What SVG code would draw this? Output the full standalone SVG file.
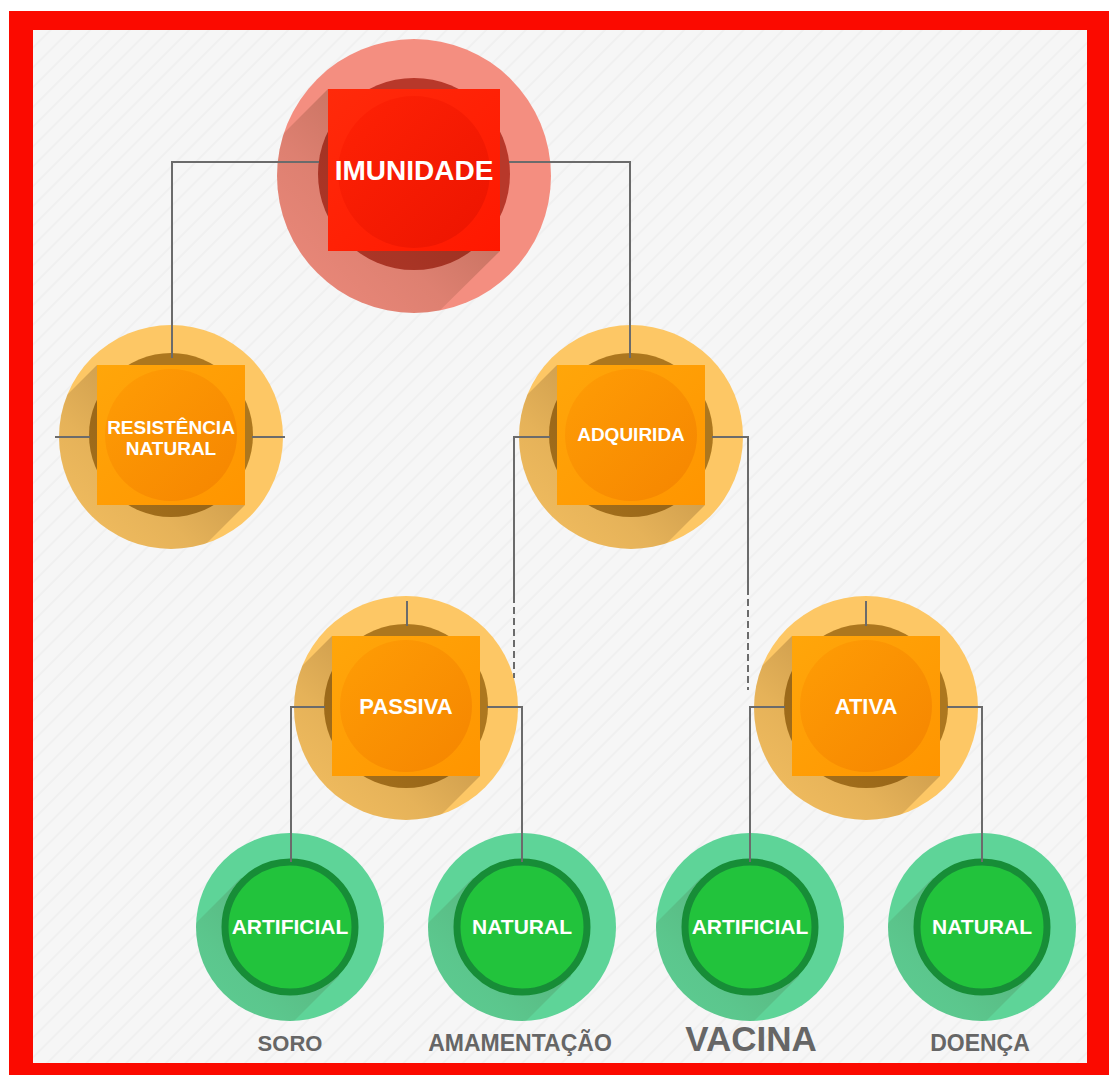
<svg xmlns="http://www.w3.org/2000/svg" width="1109" height="1075" viewBox="0 0 1109 1075">
<defs>
<style>
.t{font-family:"Liberation Sans",Arial,sans-serif;font-weight:bold;fill:#ffffff;text-anchor:middle}
.lab{font-family:"Liberation Sans",Arial,sans-serif;font-weight:bold;fill:#666666;text-anchor:middle}
.con{fill:none;stroke:#6b6b6b;stroke-width:2}
.dash{fill:none;stroke:#6b6b6b;stroke-width:2;stroke-dasharray:7,4}
.oOuter{fill:#fdc765}
.oDark{fill:#ad771e}
.gOuter{fill:#5ed498}
.gInner{fill:#22c33c;stroke:#178d37;stroke-width:7}
</style>
<pattern id="stripes" width="14" height="14" patternUnits="userSpaceOnUse" patternTransform="rotate(-45)">
<rect width="14" height="14" fill="#f6f6f6"/>
<rect width="14" height="2" fill="#f0f0f0"/>
</pattern>
<linearGradient id="shadow" x1="1" y1="0" x2="0" y2="1">
<stop offset="0" stop-color="#3a1a00" stop-opacity="0.38"/>
<stop offset="0.4" stop-color="#3a1a00" stop-opacity="0.12"/>
<stop offset="0.75" stop-color="#3a1a00" stop-opacity="0"/>
</linearGradient>
<linearGradient id="orangeSq" x1="0" y1="0" x2="1" y2="1">
<stop offset="0" stop-color="#ffa60a"/>
<stop offset="1" stop-color="#ff9500"/>
</linearGradient>
<linearGradient id="orangeIn" x1="0" y1="0" x2="1" y2="1">
<stop offset="0" stop-color="#ff9d05"/>
<stop offset="1" stop-color="#f58500"/>
</linearGradient>
<linearGradient id="redSq" x1="0" y1="0" x2="1" y2="1">
<stop offset="0" stop-color="#ff2a0a"/>
<stop offset="1" stop-color="#ff1800"/>
</linearGradient>
<linearGradient id="redIn" x1="0" y1="0" x2="1" y2="1">
<stop offset="0" stop-color="#ff2205"/>
<stop offset="1" stop-color="#ec1400"/>
</linearGradient>
<clipPath id="clipRed" clipPathUnits="userSpaceOnUse"><circle cx="0" cy="6" r="137"/></clipPath>
<clipPath id="clipOrange" clipPathUnits="userSpaceOnUse"><circle cx="0" cy="2" r="112"/></clipPath>
<clipPath id="clipGreen" clipPathUnits="userSpaceOnUse"><circle cx="0" cy="0" r="94"/></clipPath>
<g id="orangeBase">
<circle class="oOuter" cx="0" cy="2" r="112"/>
<circle class="oDark" cx="0" cy="0" r="82"/>
<polygon points="-74,-70 -224,80 -224,220 -76,220 74,70" fill="url(#shadow)" clip-path="url(#clipOrange)"/>
<rect x="-74" y="-70" width="148" height="140" fill="url(#orangeSq)"/>
<circle cx="0" cy="0" r="66" fill="url(#orangeIn)"/>
</g>
<g id="greenBase">
<circle class="gOuter" cx="0" cy="0" r="94"/>
<polygon points="49,49 -49,-49 -199,101 -101,199" fill="url(#shadow)" opacity="0.6" clip-path="url(#clipGreen)"/>
<circle class="gInner" cx="0" cy="0" r="65"/>
</g>
</defs>

<rect x="0" y="0" width="1109" height="1075" fill="#ffffff"/>
<rect x="9" y="11" width="1100" height="1064" fill="#fb0a00"/>
<rect x="33" y="30" width="1054" height="1033" fill="url(#stripes)"/>

<g id="node-imunidade" transform="translate(414,170)">
<circle cx="0" cy="6" r="137" fill="#f48e80"/>
<circle cx="0" cy="4" r="96" fill="#b8382a"/>
<polygon points="-86,-81 -256,89 -256,251 -86,251 86,81" fill="url(#shadow)" clip-path="url(#clipRed)"/>
<rect x="-86" y="-81" width="172" height="162" fill="url(#redSq)"/>
<circle cx="0" cy="2" r="76" fill="url(#redIn)"/>
<text class="t" x="0" y="10" font-size="28">IMUNIDADE</text>
</g>

<g id="node-resistencia" transform="translate(171,435)">
<use href="#orangeBase"/>
<text class="t" x="0" y="-1" font-size="19">RESISTÊNCIA</text>
<text class="t" x="0" y="20" font-size="19">NATURAL</text>
</g>

<g id="node-adquirida" transform="translate(631,435)">
<use href="#orangeBase"/>
<text class="t" x="0" y="6" font-size="19">ADQUIRIDA</text>
</g>

<g id="node-passiva" transform="translate(406,706)">
<use href="#orangeBase"/>
<text class="t" x="0" y="8" font-size="22">PASSIVA</text>
</g>

<g id="node-ativa" transform="translate(866,706)">
<use href="#orangeBase"/>
<text class="t" x="0" y="8" font-size="22">ATIVA</text>
</g>

<g id="node-artificial-passiva" transform="translate(290,927)">
<use href="#greenBase"/>
<text class="t" x="0" y="7" font-size="21">ARTIFICIAL</text>
</g>
<g id="node-natural-passiva" transform="translate(522,927)">
<use href="#greenBase"/>
<text class="t" x="0" y="7" font-size="21">NATURAL</text>
</g>
<g id="node-artificial-ativa" transform="translate(750,927)">
<use href="#greenBase"/>
<text class="t" x="0" y="7" font-size="21">ARTIFICIAL</text>
</g>
<g id="node-natural-ativa" transform="translate(982,927)">
<use href="#greenBase"/>
<text class="t" x="0" y="7" font-size="21">NATURAL</text>
</g>

<g id="labels">
<text class="lab" x="290" y="1051" font-size="22">SORO</text>
<text class="lab" x="520" y="1051" font-size="23">AMAMENTAÇÃO</text>
<text class="lab" x="751" y="1051" font-size="35">VACINA</text>
<text class="lab" x="980" y="1051" font-size="23">DOENÇA</text>
</g>

<g id="connectors">
<path class="con" d="M319,162 H172 V358"/>
<path class="con" d="M509,162 H630 V358"/>
<path class="con" d="M55,437 H90"/>
<path class="con" d="M252,437 H285"/>
<path class="con" d="M550,437 H514 V596"/>
<path class="dash" d="M514,596 V678"/>
<path class="con" d="M712,437 H748 V588"/>
<path class="dash" d="M748,588 V690"/>
<path class="con" d="M407,601 V626"/>
<path class="con" d="M325,707 H291 V862"/>
<path class="con" d="M487,707 H522 V862"/>
<path class="con" d="M866,601 V626"/>
<path class="con" d="M785,707 H750 V862"/>
<path class="con" d="M947,707 H982 V862"/>
</g>
</svg>
